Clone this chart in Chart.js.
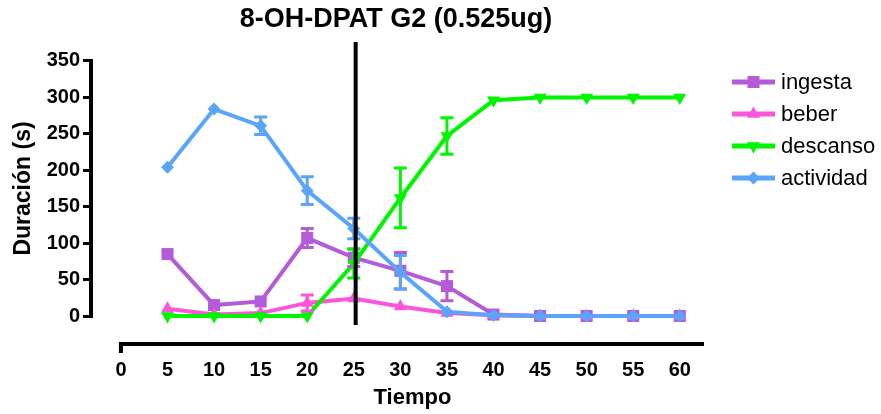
<!DOCTYPE html>
<html>
<head>
<meta charset="utf-8">
<script src="https://cdn.jsdelivr.net/npm/chart.js@4.4.0/dist/chart.umd.min.js"></script>
<style>
  html, body { margin: 0; padding: 0; background: #fff; }
</style>
</head>
<body>
<canvas id="chart" width="881" height="414"></canvas>
<script>
// ── Data ──
const tiempo = [5, 10, 15, 20, 25, 30, 35, 40, 45, 50, 55, 60];

const ingesta      = [85, 15, 20, 107, 80, 62, 41, 2, 0, 0, 0, 0];
const ingestaErr   = [0, 0, 0, 13, 12, 25, 20, 0, 0, 0, 0, 0];
const beber        = [10, 2, 4, 18, 24, 13, 4, 1, 0, 0, 0, 0];
const beberErr     = [0, 0, 0, 11, 0, 0, 0, 0, 0, 0, 0, 0];
const descanso     = [0, 0, 0, 0, 72, 162, 247, 296, 300, 300, 300, 300];
const descansoErr  = [0, 0, 0, 0, 20, 41, 25, 0, 0, 0, 0, 0];
const actividad    = [204, 284, 261, 172, 120, 60, 6, 1, 0, 0, 0, 0];
const actividadErr = [0, 0, 12, 19, 14, 23, 0, 0, 0, 0, 0, 0];

const xTicks = [0, 5, 10, 15, 20, 25, 30, 35, 40, 45, 50, 55, 60];
const yTicks = [0, 50, 100, 150, 200, 250, 300, 350];
const lineaTiempo = 25.2;   // vertical reference line

const FONT = "'Liberation Sans', Arial, sans-serif";

const series = [
  { label: 'ingesta',   data: ingesta,   err: ingestaErr,   color: '#b35bd9', style: 'rect',     radius: 8.5, rot: 0,   order: 3 },
  { label: 'beber',     data: beber,     err: beberErr,     color: '#f956dc', style: 'triangle', radius: 7.5, rot: 0,   order: 2 },
  { label: 'descanso',  data: descanso,  err: descansoErr,  color: '#00f500', style: 'triangle', radius: 7.5, rot: 180, order: 1 },
  { label: 'actividad', data: actividad, err: actividadErr, color: '#5aa5fa', style: 'rectRot',  radius: 6.5, rot: 0,   order: 0 }
];

// ── Extra drawing: axes lines, titles, error bars, legend ──
const decorPlugin = {
  id: 'decor',
  afterDatasetsDraw(chart) {
    const ctx = chart.ctx;
    const xs = chart.scales.x, ys = chart.scales.y;
    const area = chart.chartArea;
    ctx.save();

    // error bars
    ctx.lineWidth = 3;
    series.forEach(s => {
      ctx.strokeStyle = s.color;
      s.data.forEach((v, i) => {
        const e = s.err[i];
        if (!e) return;
        const px = xs.getPixelForValue(tiempo[i]);
        const top = ys.getPixelForValue(v + e);
        const bot = ys.getPixelForValue(v - e);
        ctx.beginPath();
        ctx.moveTo(px, top); ctx.lineTo(px, bot);
        ctx.moveTo(px - 6.5, top); ctx.lineTo(px + 6.5, top);
        ctx.moveTo(px - 6.5, bot); ctx.lineTo(px + 6.5, bot);
        ctx.stroke();
      });
    });

    // vertical line
    ctx.strokeStyle = '#000';
    ctx.lineWidth = 4;
    ctx.beginPath();
    ctx.moveTo(xs.getPixelForValue(lineaTiempo), area.top);
    ctx.lineTo(xs.getPixelForValue(lineaTiempo), ys.getPixelForValue(-12.4));
    ctx.stroke();

    // y axis line
    ctx.beginPath();
    ctx.moveTo(area.left - 2, ys.getPixelForValue(350) - 1.5);
    ctx.lineTo(area.left - 2, ys.getPixelForValue(0) + 1.5);
    ctx.stroke();

    // x axis line with end stub
    const x0 = xs.getPixelForValue(0);
    ctx.lineJoin = 'miter';
    ctx.beginPath();
    ctx.moveTo(x0, area.bottom + 9);
    ctx.lineTo(x0, area.bottom);
    ctx.lineTo(area.right, area.bottom);
    ctx.stroke();

    // titles
    ctx.fillStyle = '#000';
    ctx.textAlign = 'center';
    ctx.textBaseline = 'middle';
    ctx.font = 'bold 27px ' + FONT;
    ctx.fillText('8-OH-DPAT G2 (0.525ug)', 396, 20);
    ctx.font = 'bold 22px ' + FONT;
    ctx.fillText('Tiempo', (x0 + area.right) / 2, 398);
    ctx.save();
    ctx.translate(24, (ys.getPixelForValue(0) + ys.getPixelForValue(350)) / 2);
    ctx.rotate(-Math.PI / 2);
    ctx.font = 'bold 23px ' + FONT;
    ctx.fillText('Duración (s)', 0, 0);
    ctx.restore();

    // legend
    ctx.textAlign = 'left';
    ctx.font = '22px ' + FONT;
    series.forEach((s, i) => {
      const y = 82 + i * 32;
      ctx.strokeStyle = s.color;
      ctx.fillStyle = s.color;
      ctx.lineWidth = 5;
      ctx.beginPath();
      ctx.moveTo(732, y); ctx.lineTo(775, y);
      ctx.stroke();
      Chart.helpers.drawPoint(ctx, { pointStyle: s.style, radius: s.radius, rotation: s.rot, borderWidth: 0 }, 753.5, y);
      ctx.fillStyle = '#000';
      ctx.fillText(s.label, 781, y + 1);
    });

    ctx.restore();
  }
};

new Chart(document.getElementById('chart'), {
  type: 'line',
  data: {
    datasets: series.map(s => ({
      label: s.label,
      data: s.data.map((v, i) => ({ x: tiempo[i], y: v })),
      borderColor: s.color,
      backgroundColor: s.color,
      borderWidth: 4,
      pointStyle: s.style,
      pointRadius: s.radius,
      pointRotation: s.rot,
      pointBorderWidth: 0,
      tension: 0,
      order: s.order
    }))
  },
  options: {
    responsive: false,
    animation: false,
    layout: { padding: { top: 42, right: 177, left: 0, bottom: 0 } },
    plugins: { legend: { display: false }, title: { display: false }, tooltip: { enabled: false } },
    scales: {
      x: {
        type: 'linear',
        min: -3,
        max: 62.6,
        afterBuildTicks: s => { s.ticks = xTicks.map(v => ({ value: v })); },
        afterFit: s => { s.height = 70; },
        grid: { display: false, drawTicks: false },
        border: { display: false },
        ticks: { color: '#000', font: { family: FONT, size: 20, weight: 'bold' }, padding: 14, maxRotation: 0, autoSkip: false }
      },
      y: {
        min: -38.4,
        max: 376,
        afterBuildTicks: s => { s.ticks = yTicks.map(v => ({ value: v })); },
        afterFit: s => { s.width = 93; },
        grid: { drawOnChartArea: false, drawTicks: true, tickLength: 10, lineWidth: 3, color: '#000' },
        border: { display: false },
        ticks: { color: '#000', font: { family: FONT, size: 20, weight: 'bold' }, padding: 3 }
      }
    }
  },
  plugins: [decorPlugin]
});
</script>
</body>
</html>
